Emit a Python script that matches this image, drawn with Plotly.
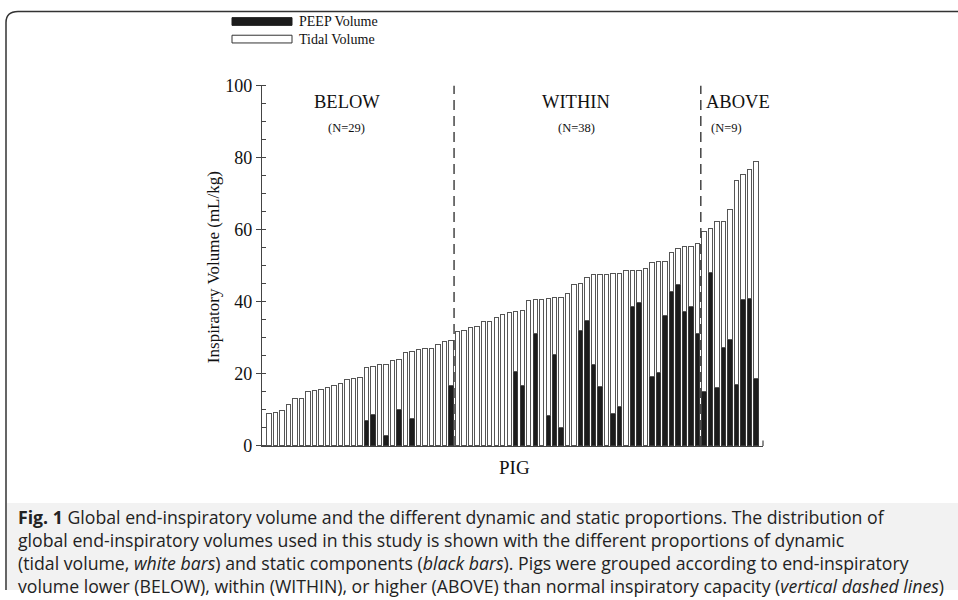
import plotly.graph_objects as go

# ---- data ----
pig_index = list(range(1, 77))
total_volume = [
    8.9, 9.35, 9.7, 11.4, 13.1, 13.3, 15.1, 15.3, 15.6, 16.3,
    16.7, 17.3, 18.4, 18.7, 19.1, 21.7, 22.1, 22.7, 22.7, 23.7,
    23.9, 26.0, 26.3, 26.7, 27.0, 27.0, 28.1, 29.1, 29.3,
    31.8, 32.0, 32.9, 33.2, 34.5, 34.6, 35.6, 36.6, 37.1, 37.2,
    37.7, 40.4, 40.5, 40.6, 41.0, 41.2, 41.2, 42.4, 44.8, 45.1,
    46.8, 47.5, 47.5, 47.6, 47.7, 47.8, 48.8, 48.8, 48.8, 49.2,
    50.8, 51.1, 51.1, 53.6, 54.8, 55.2, 55.2, 56.2,
    59.6, 60.2, 62.2, 62.2, 65.6, 73.5, 75.4, 76.6, 78.8,
]
peep_volume = [
    0, 0, 0, 0, 0, 0, 0, 0, 0, 0,
    0, 0, 0, 0, 0, 7.2, 8.7, 0, 3.0, 0,
    10.1, 0, 7.5, 0, 0, 0, 0, 0, 16.9,
    0, 0, 0, 0, 0, 0, 0, 0, 0, 20.6,
    16.7, 0, 31.2, 0, 8.5, 25.5, 5.1, 0, 0, 32.1,
    34.9, 22.5, 16.5, 0, 9.1, 11.0, 0, 38.8, 39.8, 0,
    19.4, 20.5, 36.1, 42.9, 44.7, 37.4, 38.6, 31.3,
    15.0, 48.2, 16.3, 27.2, 29.6, 17.0, 40.6, 41.0, 18.8,
]
tidal_volume = [t - p for t, p in zip(total_volume, peep_volume)]

legend_labels = ["PEEP Volume", "Tidal Volume"]
group_names = ["BELOW", "WITHIN", "ABOVE"]
group_counts = ["(N=29)", "(N=38)", "(N=9)"]
group_name_x = [13.0, 48.3, 73.3]
group_count_x = [13.0, 48.3, 71.4]
boundaries = [29.5, 67.5]

y_ticks = [0, 20, 40, 60, 80, 100]

caption_lines = [
    "<b>Fig. 1</b> Global end-inspiratory volume and the different dynamic and static proportions. The distribution of",
    "global end-inspiratory volumes used in this study is shown with the different proportions of dynamic",
    "(tidal volume, <i>white bars</i>) and static components (<i>black bars</i>). Pigs were grouped according to end-inspiratory",
    "volume lower (BELOW), within (WITHIN), or higher (ABOVE) than normal inspiratory capacity (<i>vertical dashed lines</i>)",
]

W, H = 958, 600
def px(x):
    return x / W
def py(y):
    return 1 - y / H

SERIF = "Liberation Serif"

fig = go.Figure()
fig.add_trace(go.Bar(
    x=pig_index, y=peep_volume, name="PEEP Volume",
    marker=dict(color="#1c1c1c", line=dict(color="#3a3a3a", width=1)),
    width=0.68, showlegend=False,
))
fig.add_trace(go.Bar(
    x=pig_index, y=tidal_volume, name="Tidal Volume",
    marker=dict(color="white", line=dict(color="#555555", width=1)),
    width=0.68, showlegend=False,
))

fig.update_layout(
    width=W, height=H, barmode="stack",
    margin=dict(l=0, r=0, t=0, b=0),
    paper_bgcolor="white", plot_bgcolor="white",
    font=dict(family=SERIF, color="#111", size=17),
    xaxis=dict(
        domain=[px(262), px(763)], range=[-0.08, 77.08],
        showline=True, linecolor="#444", linewidth=1.2,
        showticklabels=False, ticks="", showgrid=False, zeroline=False,
    ),
    yaxis=dict(
        domain=[py(451), py(78)], range=[0, 100],
        tickvals=y_ticks, ticks="outside", ticklen=5, tickcolor="#444",
        showline=True, linecolor="#444", linewidth=1.2,
        showgrid=False, zeroline=False,
        tickfont=dict(size=18, family=SERIF),
        minor=dict(dtick=5, ticks="inside", ticklen=4, tickcolor="#444"),
    ),
)

LEG_FONT = 14
leg_center = 21.0
leg_gap = 1.3 * LEG_FONT
leg_rows = [leg_center - leg_gap / 2, leg_center + leg_gap / 2]

shapes = []
for b in boundaries:
    shapes.append(dict(type="line", xref="x", yref="y", x0=b, x1=b, y0=0, y1=100,
                       line=dict(color="#444", width=1.5, dash="10px,6px")))
# small end tick on x-axis
shapes.append(dict(type="line", xref="x domain", yref="y", x0=1, x1=1, y0=0, y1=1.5,
                   line=dict(color="#444", width=1.2)))
# legend swatches
shapes.append(dict(type="rect", xref="paper", yref="paper",
                   x0=px(232), x1=px(292), y0=py(leg_rows[0] + 4), y1=py(leg_rows[0] - 4),
                   fillcolor="#1c1c1c", line=dict(color="#1c1c1c", width=1)))
shapes.append(dict(type="rect", xref="paper", yref="paper",
                   x0=px(232), x1=px(292), y0=py(leg_rows[1] + 4), y1=py(leg_rows[1] - 4),
                   fillcolor="white", line=dict(color="#333", width=1)))
# caption background
shapes.append(dict(type="rect", xref="paper", yref="paper", layer="below",
                   x0=px(7), x1=1, y0=0, y1=py(510),
                   fillcolor="#f2f2f2", line=dict(width=0)))
# rounded outer frame (top + left edge)
shapes.append(dict(type="path", xref="paper", yref="paper",
                   path=f"M 1,{py(1.5)} L {px(18)},{py(1.5)} Q {px(6)},{py(1.5)} {px(6)},{py(13)} L {px(6)},0",
                   line=dict(color="#333", width=1.5)))

annotations = []
annotations.append(dict(x=px(297), y=py(leg_center), xref="paper", yref="paper",
                        text="<br>".join(legend_labels), align="left",
                        showarrow=False, xanchor="left", yanchor="middle",
                        font=dict(size=LEG_FONT, family=SERIF)))
for name, cnt, nx, cx in zip(group_names, group_counts, group_name_x, group_count_x):
    annotations.append(dict(x=nx, y=py(95), xref="x", yref="paper", text=name,
                            showarrow=False, xanchor="center", yanchor="middle",
                            font=dict(size=18.5, family=SERIF)))
    annotations.append(dict(x=cx, y=py(122), xref="x", yref="paper", text=cnt,
                            showarrow=False, xanchor="center", yanchor="middle",
                            font=dict(size=12.5, family=SERIF)))
# axis titles
annotations.append(dict(x=px(514), y=py(473), xref="paper", yref="paper", text="PIG",
                        showarrow=False, xanchor="center", yanchor="middle",
                        font=dict(size=19, family=SERIF)))
annotations.append(dict(x=px(213), y=py(266), xref="paper", yref="paper",
                        text="Inspiratory Volume (mL/kg)", textangle=-90,
                        showarrow=False, xanchor="center", yanchor="middle",
                        font=dict(size=17, family=SERIF)))
# caption (one multi-line block)
annotations.append(dict(x=px(16), y=py(560), xref="paper", yref="paper",
                        text="<br>".join(caption_lines), align="left",
                        showarrow=False, xanchor="left", yanchor="middle",
                        font=dict(size=17.7, family="Open Sans", color="#222")))

fig.update_layout(shapes=shapes, annotations=annotations)
fig.write_html("out.html", config={"displayModeBar": False},
               post_script="document.body.style.margin='0';document.body.style.overflow='hidden';")
